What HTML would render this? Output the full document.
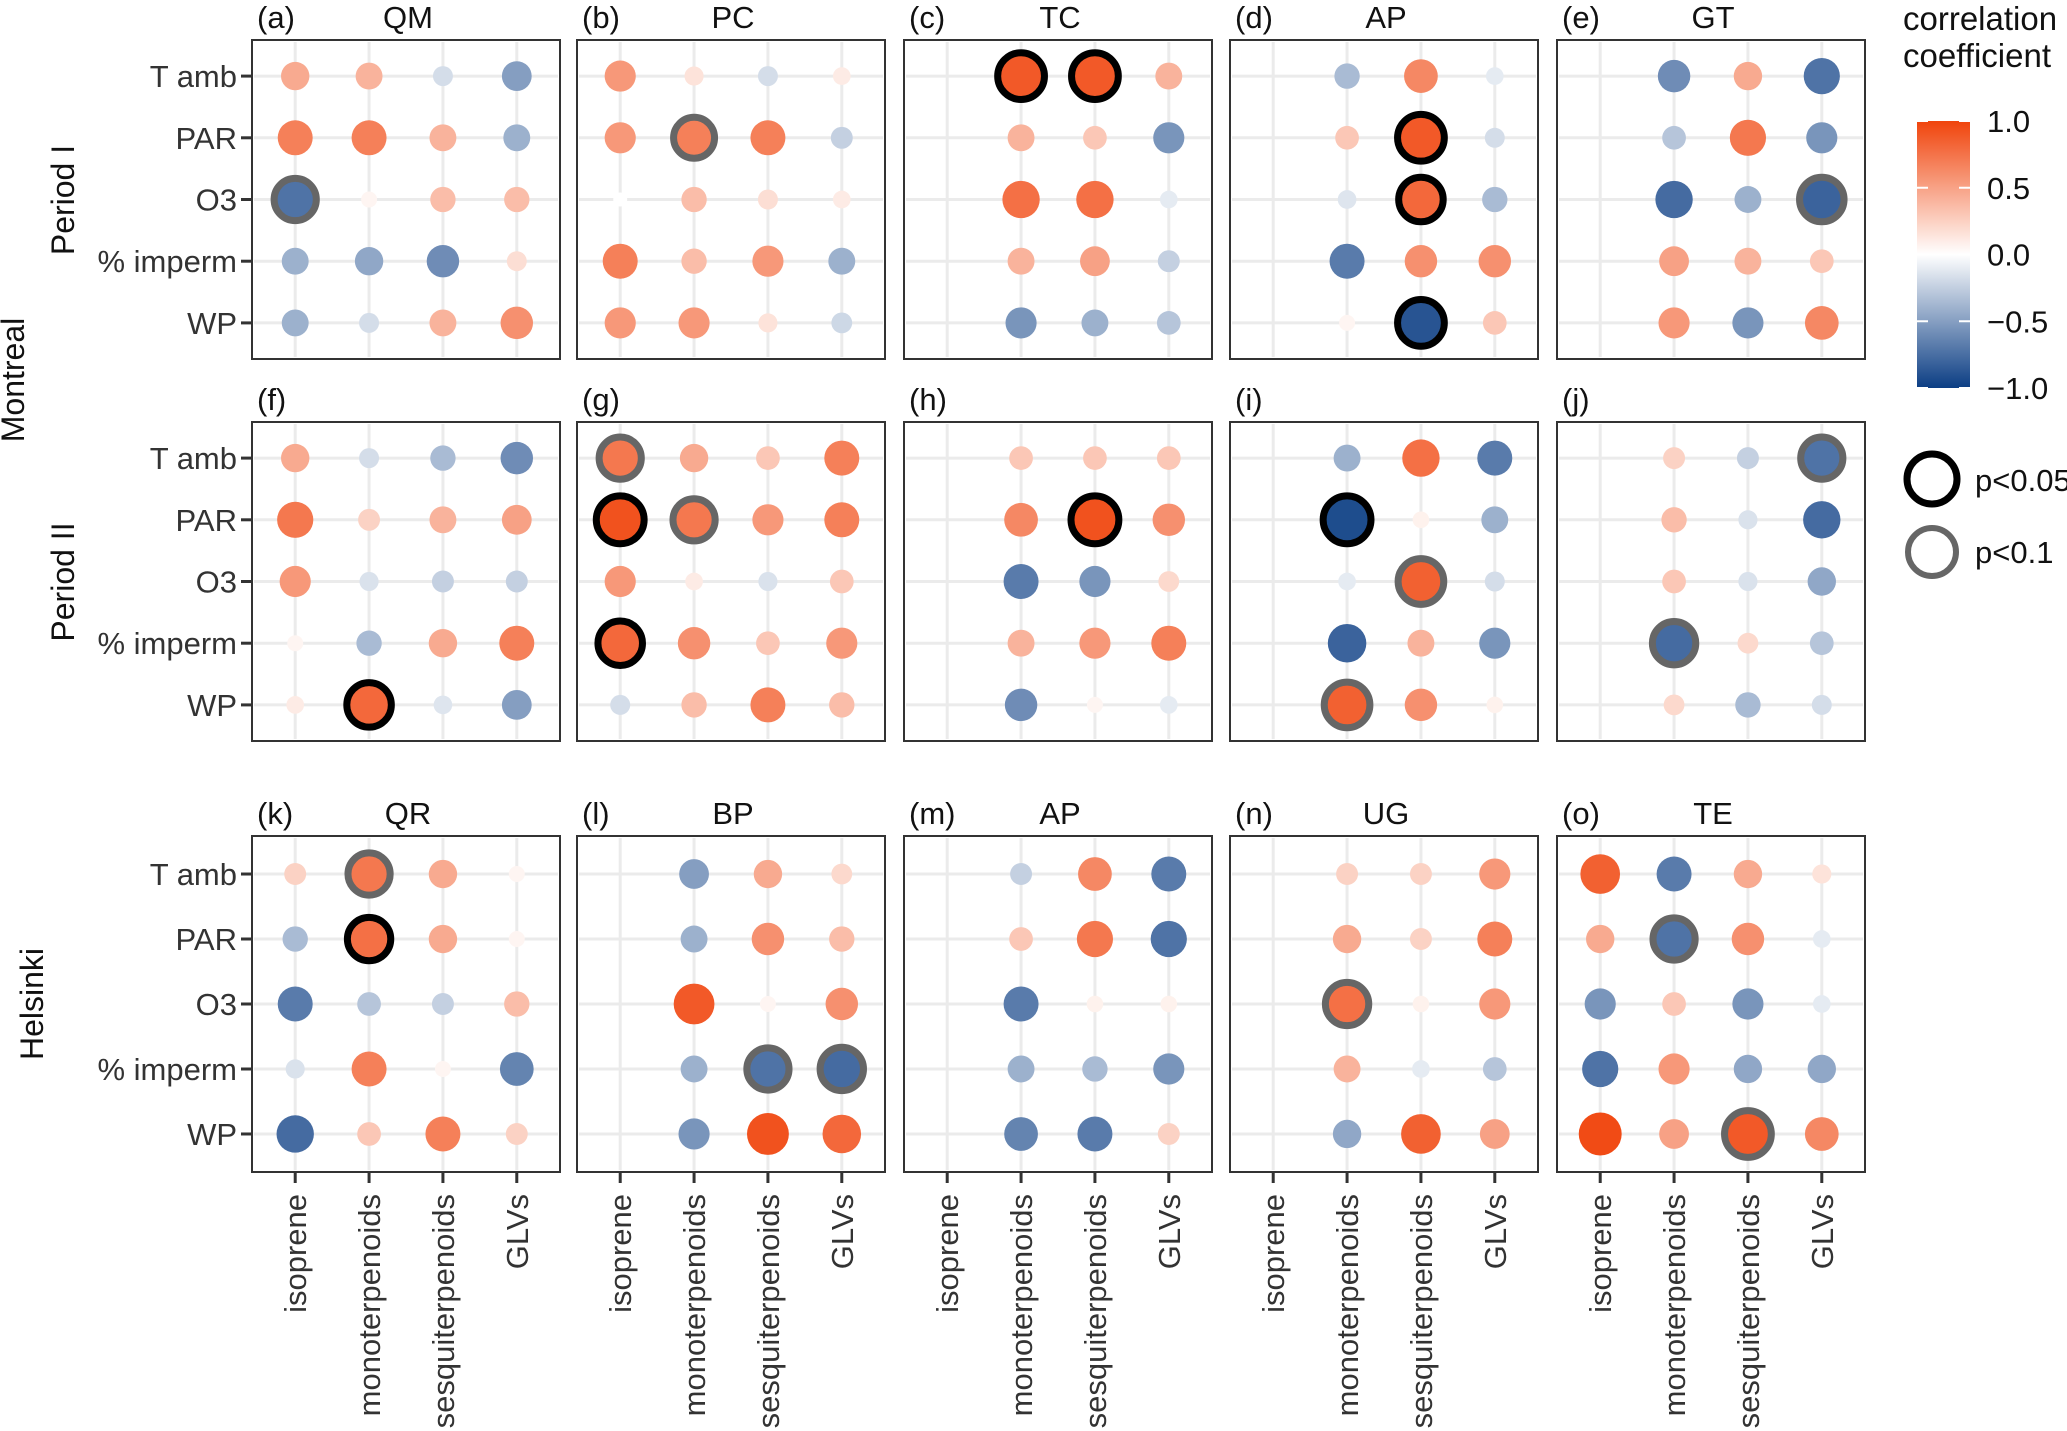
<!DOCTYPE html>
<html><head><meta charset="utf-8">
<style>
html,body{margin:0;padding:0;background:#fff;}
svg{display:block;font-family:"Liberation Sans",Arial,sans-serif;}
</style></head>
<body>
<svg id="chart" width="2067" height="1431" viewBox="0 0 2067 1431" xmlns="http://www.w3.org/2000/svg"></svg>
<script>
const categories = ["isoprene","monoterpenoids","sesquiterpenoids","GLVs"];
const variables = ["T amb","PAR","O3","% imperm","WP"];
const panelLetters = ["a","b","c","d","e","f","g","h","i","j","k","l","m","n","o"];
const panelNames = ["QM","PC","TC","AP","GT","","","","","","QR","BP","AP","UG","TE"];
const legendTicks = [1.0,0.5,0.0,-0.5,-1.0];
const legendTickLabels = ["1.0","0.5","0.0","\u22120.5","\u22121.0"];
const N = null;
const valA = [[0.35,0.3,-0.1,-0.4],[0.6,0.6,0.3,-0.3],[-0.65,0.02,0.25,0.25],[-0.3,-0.35,-0.5,0.1],[-0.3,-0.1,0.3,0.5]];
const valB = [[0.45,0.08,-0.1,0.05],[0.45,0.6,0.6,-0.15],[0.0,0.25,0.1,0.05],[0.6,0.25,0.45,-0.3],[0.45,0.45,0.08,-0.12]];
const valC = [[N,0.85,0.85,0.3],[N,0.3,0.2,-0.45],[N,0.7,0.7,-0.05],[N,0.3,0.4,-0.15],[N,-0.45,-0.3,-0.2]];
const valD = [[N,-0.25,0.55,-0.05],[N,0.2,0.85,-0.1],[N,-0.07,0.75,-0.25],[N,-0.6,0.5,0.5],[N,0.02,-0.85,0.2]];
const valE = [[N,-0.5,0.35,-0.65],[N,-0.2,0.65,-0.45],[N,-0.7,-0.3,-0.75],[N,0.4,0.3,0.2],[N,0.45,-0.45,0.55]];
const valF = [[0.35,-0.1,-0.25,-0.5],[0.65,0.15,0.3,0.4],[0.45,-0.08,-0.15,-0.15],[0.02,-0.25,0.35,0.6],[0.05,0.75,-0.07,-0.4]];
const valG = [[0.65,0.35,0.2,0.6],[0.9,0.65,0.45,0.6],[0.45,0.05,-0.08,0.2],[0.75,0.5,0.2,0.45],[-0.1,0.25,0.6,0.25]];
const valH = [[N,0.2,0.2,0.2],[N,0.55,0.9,0.5],[N,-0.6,-0.45,0.12],[N,0.3,0.45,0.6],[N,-0.5,0.02,-0.05]];
const valI = [[N,-0.3,0.7,-0.6],[N,-0.9,0.03,-0.3],[N,-0.05,0.8,-0.1],[N,-0.75,0.3,-0.45],[N,0.8,0.5,0.03]];
const valJ = [[N,0.15,-0.15,-0.65],[N,0.25,-0.08,-0.7],[N,0.2,-0.08,-0.35],[N,-0.7,0.12,-0.2],[N,0.12,-0.25,-0.1]];
const valK = [[0.15,0.65,0.35,0.02],[-0.25,0.7,0.35,0.02],[-0.6,-0.2,-0.15,0.25],[-0.08,0.6,0.02,-0.55],[-0.7,0.2,0.6,0.15]];
const valL = [[N,-0.4,0.35,0.12],[N,-0.3,0.5,0.25],[N,0.85,0.02,0.5],[N,-0.3,-0.65,-0.7],[N,-0.45,0.9,0.75]];
const valM = [[N,-0.15,0.55,-0.6],[N,0.2,0.65,-0.65],[N,-0.6,0.03,0.03],[N,-0.3,-0.25,-0.45],[N,-0.55,-0.6,0.15]];
const valN = [[N,0.15,0.15,0.45],[N,0.35,0.15,0.6],[N,0.7,0.03,0.45],[N,0.3,-0.05,-0.2],[N,-0.35,0.8,0.4]];
const valO = [[0.8,-0.6,0.35,0.08],[0.35,-0.65,0.5,-0.05],[-0.45,0.2,-0.45,-0.05],[-0.65,0.45,-0.35,-0.35],[0.95,0.4,0.85,0.55]];
const sigA = [[0,0,0,0],[0,0,0,0],[1,0,0,0],[0,0,0,0],[0,0,0,0]];
const sigB = [[0,0,0,0],[0,1,0,0],[0,0,0,0],[0,0,0,0],[0,0,0,0]];
const sigC = [[0,2,2,0],[0,0,0,0],[0,0,0,0],[0,0,0,0],[0,0,0,0]];
const sigD = [[0,0,0,0],[0,0,2,0],[0,0,2,0],[0,0,0,0],[0,0,2,0]];
const sigE = [[0,0,0,0],[0,0,0,0],[0,0,0,1],[0,0,0,0],[0,0,0,0]];
const sigF = [[0,0,0,0],[0,0,0,0],[0,0,0,0],[0,0,0,0],[0,2,0,0]];
const sigG = [[1,0,0,0],[2,1,0,0],[0,0,0,0],[2,0,0,0],[0,0,0,0]];
const sigH = [[0,0,0,0],[0,0,2,0],[0,0,0,0],[0,0,0,0],[0,0,0,0]];
const sigI = [[0,0,0,0],[0,2,0,0],[0,0,1,0],[0,0,0,0],[0,1,0,0]];
const sigJ = [[0,0,0,1],[0,0,0,0],[0,0,0,0],[0,1,0,0],[0,0,0,0]];
const sigK = [[0,1,0,0],[0,2,0,0],[0,0,0,0],[0,0,0,0],[0,0,0,0]];
const sigL = [[0,0,0,0],[0,0,0,0],[0,0,0,0],[0,0,1,1],[0,0,0,0]];
const sigM = [[0,0,0,0],[0,0,0,0],[0,0,0,0],[0,0,0,0],[0,0,0,0]];
const sigN = [[0,0,0,0],[0,0,0,0],[0,1,0,0],[0,0,0,0],[0,0,0,0]];
const sigO = [[0,0,0,0],[0,1,0,0],[0,0,0,0],[0,0,0,0],[0,0,1,0]];

const panelValues = [valA,valB,valC,valD,valE,valF,valG,valH,valI,valJ,valK,valL,valM,valN,valO];
const panelSig = [sigA,sigB,sigC,sigD,sigE,sigF,sigG,sigH,sigI,sigJ,sigK,sigL,sigM,sigN,sigO];

const svg = document.getElementById('chart');
const NS = 'http://www.w3.org/2000/svg';
function mk(tag, attrs, parent){ const e=document.createElementNS(NS,tag); for(const k in attrs) e.setAttribute(k,attrs[k]); (parent||svg).appendChild(e); return e; }

const colLefts = [252,577,904,1230,1557];
const panelW = 308;
const rowTops = [40,422,836];
const rowHeights = [319,319,336];
const FS = 31;

function colorOf(v){
  const neg=[12,62,132], pos=[240,68,12], w=[255,255,255];
  const t=Math.pow(Math.min(1,Math.abs(v)),0.75); const c=v<0?neg:pos;
  const r=Math.round(w[0]+(c[0]-w[0])*t), g=Math.round(w[1]+(c[1]-w[1])*t), b=Math.round(w[2]+(c[2]-w[2])*t);
  return `rgb(${r},${g},${b})`;
}
function colorLin(v){
  const neg=[12,62,132], pos=[240,68,12], w=[255,255,255];
  const t=Math.min(1,Math.abs(v)); const c=v<0?neg:pos;
  return `rgb(${Math.round(w[0]+(c[0]-w[0])*t)},${Math.round(w[1]+(c[1]-w[1])*t)},${Math.round(w[2]+(c[2]-w[2])*t)})`;
}
function radiusOf(v){ return 7 + 15*Math.pow(Math.abs(v),0.7); }
function xScale(left, j){ const step = panelW/4.17; return left + step*0.585 + j*step; }
function yScale(top, h, i){ const step = h/5.17; return top + step*0.585 + i*step; }

for(let p=0;p<15;p++){
  const row=Math.floor(p/5), col=p%5;
  const left=colLefts[col], top=rowTops[row], h=rowHeights[row];
  const g=mk('g',{});
  
  
  for(let j=0;j<4;j++){ const x=xScale(left,j); const l=mk('line',{x1:x,x2:x,y1:top+2,y2:top+h-2,stroke:'#ebebeb','stroke-width':3},g);   }
  for(let i=0;i<5;i++){ const y=yScale(top,h,i); const l=mk('line',{x1:left+2,x2:left+panelW-2,y1:y,y2:y,stroke:'#ebebeb','stroke-width':3},g);   }
  const vals=panelValues[p], sig=panelSig[p];
  for(let i=0;i<5;i++) for(let j=0;j<4;j++){
    const v=vals[i][j]; if(v===null) continue;
    const cx=xScale(left,j), cy=yScale(top,h,i), r=radiusOf(v);
    const c=mk('circle',{cx:cx,cy:cy,r:r,fill:colorOf(v)},g);
    
    
    if(sig[i][j]>0){
      const ring=mk('circle',{cx:cx,cy:cy,r:r+3,fill:'none',stroke:sig[i][j]===2?'#000':'#666','stroke-width':7},g);
      
      
    }
  }
  const box=mk('rect',{x:left,y:top,width:panelW,height:h,fill:'none',stroke:'#333','stroke-width':2},g);
  
  
  const lt=mk('text',{x:left+5,y:top-12,'font-size':FS,fill:'#111'},g); lt.textContent='('+panelLetters[p]+')';
   
  if(panelNames[p]){ const nt=mk('text',{x:left+panelW/2+2,y:top-12,'font-size':FS,fill:'#111','text-anchor':'middle'},g); nt.textContent=panelNames[p];
      }
  if(col===0){
    for(let i=0;i<5;i++){ const y=yScale(top,h,i);
      const tk=mk('line',{x1:left-11,x2:left,y1:y,y2:y,stroke:'#333','stroke-width':3},g);  
      const t=mk('text',{x:left-15,y:y+11,'font-size':FS,fill:'#333','text-anchor':'end'},g); t.textContent=variables[i];
        }
  }
  if(row===2){
    for(let j=0;j<4;j++){ const x=xScale(left,j);
      const tk=mk('line',{x1:x,x2:x,y1:top+h,y2:top+h+11,stroke:'#333','stroke-width':3},g);  
      const t=mk('text',{x:0,y:0,'font-size':FS,fill:'#333','text-anchor':'end',transform:`translate(${x+11},${top+h+22}) rotate(-90)`},g); t.textContent=categories[j];
        }
  }
}
function sideLabel(txt,x,y,name){ const t=mk('text',{x:0,y:0,'font-size':32,fill:'#111','text-anchor':'middle',transform:`translate(${x},${y}) rotate(-90)`}); t.textContent=txt;   }
sideLabel('Period I',74,200,'period-i-label');
sideLabel('Period II',74,582,'period-ii-label');
sideLabel('Montreal',24,380,'montreal-label');
sideLabel('Helsinki',43,1004,'helsinki-label');

const lg=mk('g',{});  
const t1=mk('text',{x:1903,y:30,'font-size':33,fill:'#111'},lg); t1.textContent='correlation';  
const t2=mk('text',{x:1903,y:67,'font-size':33,fill:'#111'},lg); t2.textContent='coefficient';  
const defs=mk('defs',{});
const grad=mk('linearGradient',{id:'cb',x1:0,y1:0,x2:0,y2:1},defs);
for(let k=0;k<=20;k++){ const v=1-k/10; mk('stop',{offset:(k/20),'stop-color':colorLin(v)},grad); }
const cbTop=121, cbBot=388, cbL=1917, cbW=53;
const cb=mk('rect',{x:cbL,y:cbTop,width:cbW,height:cbBot-cbTop,fill:'url(#cb)'},lg);  
function cbY(v){ return cbTop + (1-v)/2*(cbBot-cbTop); }
legendTicks.forEach((v,k)=>{ const y=cbY(v);
  mk('line',{x1:cbL,x2:cbL+11,y1:y,y2:y,stroke:'#fff','stroke-width':2},lg);
  mk('line',{x1:cbL+cbW-11,x2:cbL+cbW,y1:y,y2:y,stroke:'#fff','stroke-width':2},lg);
  const t=mk('text',{x:1987,y:y+11,'font-size':31,fill:'#111'},lg); t.textContent=legendTickLabels[k];
    });
const r1=mk('circle',{cx:1932,cy:479,r:25,fill:'#fff',stroke:'#000','stroke-width':7},lg);  
const l1=mk('text',{x:1975,y:491,'font-size':31,fill:'#111'},lg); l1.textContent='p<0.05';  
const r2=mk('circle',{cx:1932,cy:552,r:24,fill:'#fff',stroke:'#666','stroke-width':6},lg);  
const l2=mk('text',{x:1975,y:563,'font-size':31,fill:'#111'},lg); l2.textContent='p<0.1';  
</script>
</body></html>
